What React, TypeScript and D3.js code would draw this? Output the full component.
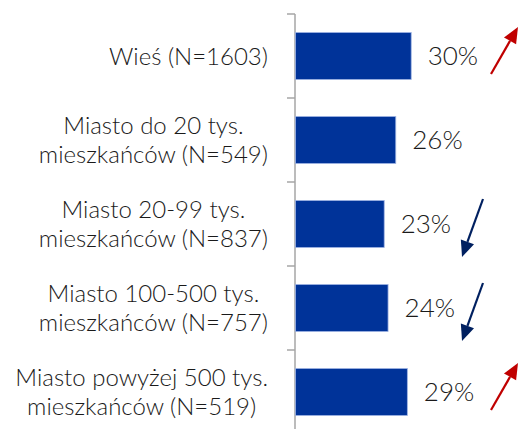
import React, { useEffect, useRef } from "react";
import * as d3 from "d3";

const categories = [
  ["Wieś (N=1603)"],
  ["Miasto do 20 tys.", "mieszkańców (N=549)"],
  ["Miasto 20-99 tys.", "mieszkańców (N=837)"],
  ["Miasto 100-500 tys.", "mieszkańców (N=757)"],
  ["Miasto powyżej 500 tys.", "mieszkańców (N=519)"],
];
const values = [30, 26, 23, 24, 29];
const trends = ["up", null, "down", "down", "up"];

const W = 526;
const H = 429;
const FONT = "Lato, 'Open Sans', sans-serif";

export default function App() {
  const svgRef = useRef<SVGSVGElement>(null);

  useEffect(() => {
    const svg = d3.select(svgRef.current);
    svg.selectAll("*").remove();

    const axisX = 295;
    const y = d3.scaleBand<number>().domain(d3.range(values.length)).range([14, 434]).paddingInner(0.44).paddingOuter(0.22);
    const step = y.step();
    const x = d3.scaleLinear().domain([0, 30]).range([axisX, axisX + 115.7]);

    // axis line + ticks between categories
    svg.append("line")
      .attr("x1", axisX).attr("x2", axisX).attr("y1", 14).attr("y2", H)
      .attr("stroke", "#a6a6a6").attr("stroke-width", 1.5);
    d3.range(values.length + 1).forEach(i => {
      const ty = 14 + i * step;
      svg.append("line")
        .attr("x1", axisX - 8).attr("x2", axisX).attr("y1", ty).attr("y2", ty)
        .attr("stroke", "#a6a6a6").attr("stroke-width", 1.5);
    });

    svg.selectAll(".bar")
      .data(values)
      .enter()
      .append("rect")
      .attr("x", axisX + 0.5)
      .attr("y", (d, i) => y(i)!)
      .attr("width", d => x(d) - axisX)
      .attr("height", y.bandwidth())
      .attr("fill", "#003399")
      .attr("stroke", "#9fb4e3")
      .attr("stroke-width", 0.8);

    svg.selectAll(".val")
      .data(values)
      .enter()
      .append("text")
      .attr("x", d => x(d) + 17)
      .attr("y", (d, i) => y(i)! + y.bandwidth() / 2)
      .attr("dy", "0.36em")
      .attr("font-family", FONT)
      .attr("font-weight", 300)
      .attr("font-size", 26)
      .attr("fill", "#1a1a1a")
      .text(d => `${d}%`);

    // category labels: block right-aligned, lines centered within the block
    categories.forEach((lines, i) => {
      const cy = y(i)! + y.bandwidth() / 2;
      const lh = 28.5;
      const g = svg.append("g");
      const texts = lines.map((l, j) =>
        g.append("text")
          .attr("y", cy + (j - (lines.length - 1) / 2) * lh)
          .attr("dy", "0.36em")
          .attr("font-family", FONT)
          .attr("font-weight", 300)
          .attr("font-size", 24)
          .attr("fill", "#1a1a1a")
          .attr("text-anchor", "middle")
          .text(l)
      );
      const widths = texts.map(t => (t.node() as SVGTextElement).getComputedTextLength());
      const bw = d3.max(widths)!;
      const right = 268;
      const cx = Math.max(right - bw / 2, 13 + bw / 2);
      texts.forEach(t => t.attr("x", cx));
    });

    // trend arrows
    trends.forEach((t, i) => {
      if (!t) return;
      const cy = y(i)! + y.bandwidth() / 2;
      const up = t === "up";
      const color = up ? "#c00000" : "#002060";
      const x1 = up ? 491 : 483, y1 = up ? cy + 18 : cy - 25;
      const x2 = up ? 518 : 462, y2 = up ? cy - 29 : cy + 33;
      const ang = Math.atan2(y2 - y1, x2 - x1);
      const hl = 16, hw = 7;
      const bx = x2 - hl * Math.cos(ang), by = y2 - hl * Math.sin(ang);
      const px = -Math.sin(ang), py = Math.cos(ang);
      svg.append("line")
        .attr("x1", x1).attr("y1", y1).attr("x2", bx).attr("y2", by)
        .attr("stroke", color).attr("stroke-width", 2.2);
      svg.append("path")
        .attr("d", `M${x2},${y2} L${bx + px * hw},${by + py * hw} L${bx - px * hw},${by - py * hw} Z`)
        .attr("fill", color);
    });
  }, []);

  return (
    <svg ref={svgRef} width={W} height={H} style={{ position: "absolute", left: 0, top: 0, background: "#fff" }} />
  );
}
